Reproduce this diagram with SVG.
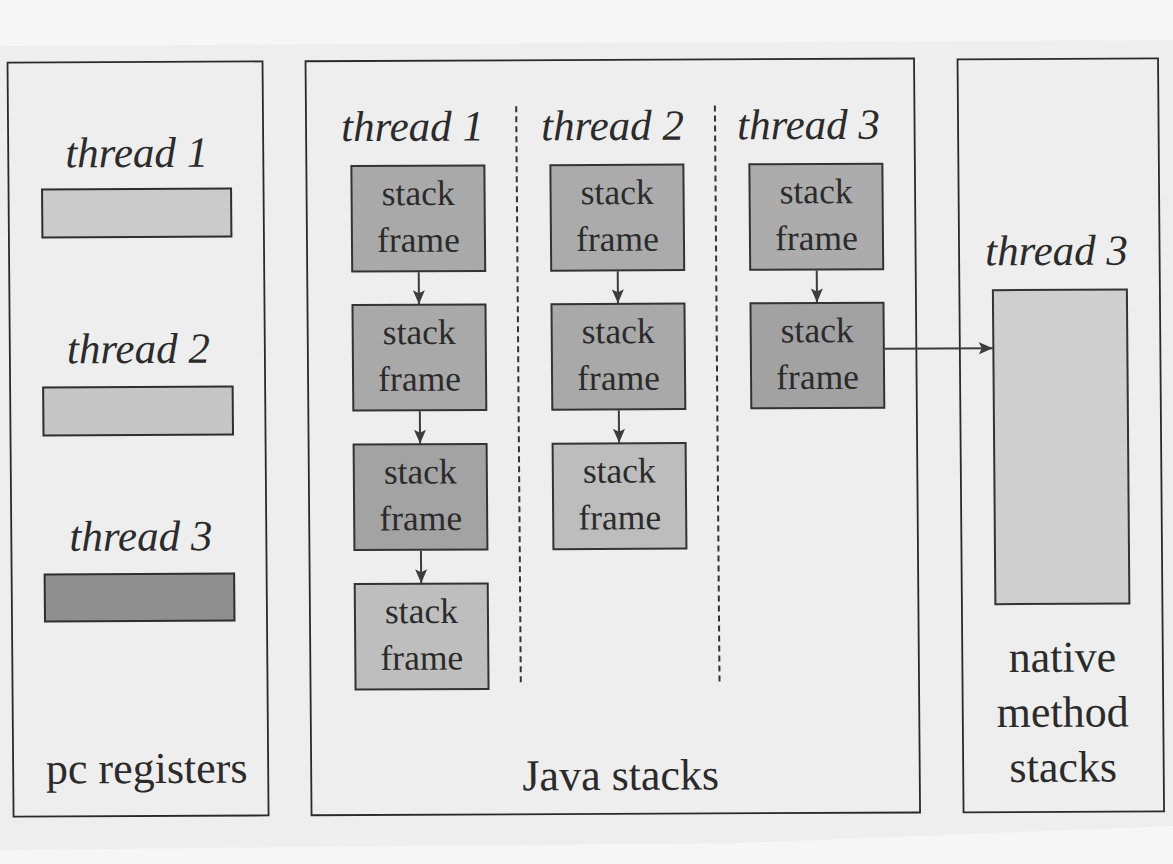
<svg xmlns="http://www.w3.org/2000/svg" width="1173" height="864" viewBox="0 0 1173 864">
  <style>
    .panel { fill: none; stroke: #2a2a2a; stroke-width: 1.8; }
    .reg { stroke: #2e2e2e; stroke-width: 2; }
    .frame { stroke: #333; stroke-width: 2; }
    .divider { stroke: #333; stroke-width: 2; stroke-dasharray: 6 4; fill: none; }
    .link { stroke: #3c3c3c; stroke-width: 2; fill: none; }
    .lbl { font-family: "Liberation Serif", "Times New Roman", serif; font-size: 44px; fill: #2b2b2b; text-anchor: middle; }
    .thr { font-family: "Liberation Serif", "Times New Roman", serif; font-style: italic; font-size: 43px; fill: #2b2b2b; text-anchor: middle; }
    .sf { font-family: "Liberation Serif", "Times New Roman", serif; font-size: 35.5px; fill: #2b2b2b; text-anchor: middle; }
  </style>
  <defs>
    <marker id="arrow" markerUnits="userSpaceOnUse" markerWidth="15" markerHeight="13" refX="14" refY="6.5" orient="auto">
      <path d="M0,0.5 L14,6.5 L0,12.5 L3,6.5 z" fill="#3c3c3c"/>
    </marker>
  </defs>

  <!-- paper -->
  <rect x="0" y="0" width="1173" height="864" fill="#f6f6f6"/>
  <polygon points="0,46 1173,40 1173,826 740,843 0,850" fill="#eeeeee"/>

  <g transform="matrix(1,-0.0045,0.008,1,-3.456,2.637)">
    <!-- pc registers area -->
    <g id="pc-registers">
      <rect class="panel" x="10.5" y="60" width="255" height="754"/>
      <text class="lbl" x="144" y="781">pc registers</text>
    </g>
    <g id="pc-thread1">
      <text class="thr" x="139" y="165">thread 1</text>
      <rect class="reg" x="44" y="187" width="189" height="48" fill="#cbcbcb"/>
    </g>
    <g id="pc-thread2">
      <text class="thr" x="139" y="361">thread 2</text>
      <rect class="reg" x="43.5" y="385" width="189.5" height="48" fill="#c6c6c6"/>
    </g>
    <g id="pc-thread3">
      <text class="thr" x="140" y="548.5">thread 3</text>
      <rect class="reg" x="43.5" y="572" width="189.5" height="47" fill="#8f8f8f"/>
    </g>

    <!-- Java stacks area -->
    <g id="java-stacks">
      <rect class="panel" x="308.5" y="60" width="608.5" height="754"/>
      <line class="divider" x1="518.8" y1="106" x2="518.8" y2="686"/>
      <line class="divider" x1="717.5" y1="106" x2="717.5" y2="686"/>
      <text class="thr" x="415" y="140">thread 1</text>
      <text class="thr" x="615" y="140">thread 2</text>
      <text class="thr" x="811" y="140">thread 3</text>
      <text class="lbl" x="618" y="790">Java stacks</text>
    </g>

    <!-- thread 1 frames -->
    <g id="t1-frame1">
      <rect class="frame" x="353.5" y="165" width="133" height="105.5" fill="#a9a9a9"/>
      <text class="sf" x="420" y="204.3">stack</text>
      <text class="sf" x="420" y="251">frame</text>
    </g>
    <g id="t1-frame2">
      <rect class="frame" x="353.5" y="304" width="133" height="105.5" fill="#a9a9a9"/>
      <text class="sf" x="420" y="343.3">stack</text>
      <text class="sf" x="420" y="390">frame</text>
    </g>
    <g id="t1-frame3">
      <rect class="frame" x="353.5" y="443.5" width="133" height="105.5" fill="#a3a3a3"/>
      <text class="sf" x="420" y="482.8">stack</text>
      <text class="sf" x="420" y="529.5">frame</text>
    </g>
    <g id="t1-frame4">
      <rect class="frame" x="353.5" y="583" width="133" height="105.5" fill="#bebebe"/>
      <text class="sf" x="420" y="622.3">stack</text>
      <text class="sf" x="420" y="669">frame</text>
    </g>

    <!-- thread 2 frames -->
    <g id="t2-frame1">
      <rect class="frame" x="552.5" y="165" width="133" height="105.5" fill="#ababab"/>
      <text class="sf" x="619" y="204.3">stack</text>
      <text class="sf" x="619" y="251">frame</text>
    </g>
    <g id="t2-frame2">
      <rect class="frame" x="552.5" y="304" width="133" height="105.5" fill="#a9a9a9"/>
      <text class="sf" x="619" y="343.3">stack</text>
      <text class="sf" x="619" y="390">frame</text>
    </g>
    <g id="t2-frame3">
      <rect class="frame" x="552.5" y="443.5" width="133" height="105.5" fill="#bdbdbd"/>
      <text class="sf" x="619" y="482.8">stack</text>
      <text class="sf" x="619" y="529.5">frame</text>
    </g>

    <!-- thread 3 frames -->
    <g id="t3-frame1">
      <rect class="frame" x="751.5" y="165" width="133" height="105.5" fill="#acacac"/>
      <text class="sf" x="818" y="204.3">stack</text>
      <text class="sf" x="818" y="251">frame</text>
    </g>
    <g id="t3-frame2">
      <rect class="frame" x="751.5" y="304" width="133" height="105" fill="#a2a2a2"/>
      <text class="sf" x="818" y="343.3">stack</text>
      <text class="sf" x="818" y="390">frame</text>
    </g>

    <!-- native method stacks area -->
    <g id="native-method-stacks">
      <rect class="panel" x="960.5" y="61" width="200.5" height="753"/>
      <text class="lbl" x="1060.5" y="673.8">native</text>
      <text class="lbl" x="1060.5" y="728.8">method</text>
      <text class="lbl" x="1060.5" y="783.8">stacks</text>
    </g>
    <g id="native-thread3">
      <text class="thr" x="1058" y="267">thread 3</text>
      <rect class="frame" x="994" y="292" width="134" height="314" fill="#cfcfcf"/>
    </g>

    <!-- connectors -->
    <g id="connectors">
      <line class="link" x1="420" y1="271.5" x2="420" y2="303.5" marker-end="url(#arrow)"/>
      <line class="link" x1="420" y1="410.5" x2="420" y2="443" marker-end="url(#arrow)"/>
      <line class="link" x1="420" y1="550" x2="420" y2="582.5" marker-end="url(#arrow)"/>
      <line class="link" x1="619" y1="271.5" x2="619" y2="303.5" marker-end="url(#arrow)"/>
      <line class="link" x1="619" y1="410.5" x2="619" y2="443" marker-end="url(#arrow)"/>
      <line class="link" x1="818" y1="271.5" x2="818" y2="303.5" marker-end="url(#arrow)"/>
      <line class="link" x1="885.5" y1="350" x2="993.5" y2="350" marker-end="url(#arrow)"/>
    </g>
  </g>
</svg>
